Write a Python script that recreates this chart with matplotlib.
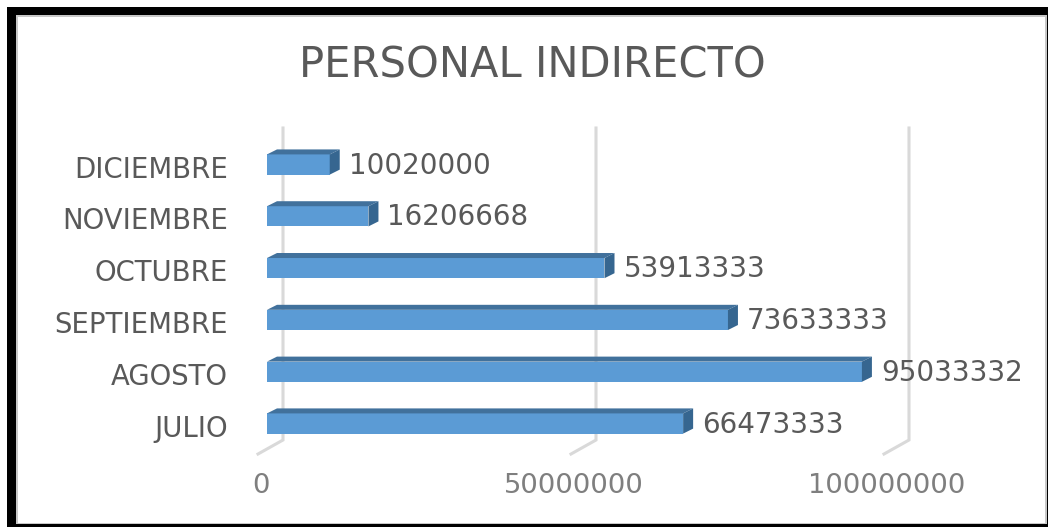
import matplotlib
matplotlib.use("Agg")
import matplotlib.pyplot as plt
from matplotlib.patches import Polygon, Rectangle

meses = ["JULIO", "AGOSTO", "SEPTIEMBRE", "OCTUBRE", "NOVIEMBRE", "DICIEMBRE"]
valores = [66473333, 95033332, 73633333, 53913333, 16206668, 10020000]
ticks = [0, 50000000, 100000000]
titulo = "PERSONAL INDIRECTO"

W, H = 1048, 527
plt.rcParams["font.family"] = ["DejaVu Sans"]

fig = plt.figure(figsize=(W / 100, H / 100), dpi=100)

# marco negro de la captura
fondo = fig.add_axes([0, 0, 1, 1])
fondo.set_xlim(0, W)
fondo.set_ylim(H, 0)
fondo.axis("off")
fondo.add_patch(Rectangle((7, 7), W + 20, H + 20, fc="black", ec="none"))
fondo.add_patch(Rectangle((16, 15), 1032 - 1, 509, fc="#c8c8c8", ec="none"))
fondo.add_patch(Rectangle((18, 17), 1027, 506, fc="white", ec="none"))

# ejes alineados con el frente de las barras
ax = fig.add_axes([267 / W, 1 - 455 / H, 626 / W, (455 - 128) / H])
ax.set_xlim(0, 100000000)
ax.set_ylim(-0.608, 5.705)
ax.axis("off")

px_x = 100000000 / 626
px_y = 6.313 / 327
dx, dy = 10 * px_x, 5 * px_y
alto = 0.39

# rejilla detras de las barras, con su pie en perspectiva
for t in ticks:
    ax.plot([t + 16 * px_x, t + 16 * px_x, t - 9 * px_x],
            [5.705, (423.5 - 440) * px_y, (423.5 - 454) * px_y],
            color="#d9d9d9", lw=2.2, solid_joinstyle="miter", zorder=1, clip_on=False)

for i, v in enumerate(valores):
    y0, y1 = i - alto / 2, i + alto / 2
    ax.barh(i, v, height=alto, color="#5b9bd5", zorder=3)
    ax.add_patch(Polygon([(0, y1), (v, y1), (v + dx, y1 + dy), (dx, y1 + dy)],
                         fc="#41719c", ec="none", zorder=3))
    ax.add_patch(Polygon([(v, y0), (v + dx, y0 + dy), (v + dx, y1 + dy), (v, y1)],
                         fc="#366690", ec="none", zorder=3))
    ax.annotate(str(v), xy=(v, i), xytext=(19, -1), textcoords="offset pixels",
                ha="left", va="center", fontsize=20, color="#595959", zorder=4)
    ax.annotate(meses[i], xy=(0, i), xytext=(-39, -5), textcoords="offset pixels",
                ha="right", va="center", fontsize=19.8, color="#595959", zorder=4)

for t in ticks:
    ax.annotate(str(t), xy=(t, 0), xytext=(-6, -62), textcoords="offset pixels",
                ha="center", va="center", fontsize=19.7, color="#7f7f7f", zorder=4)

fig.text(532 / W, 1 - 65 / H, titulo, ha="center", va="center",
         fontsize=30, color="#595959")

fig.savefig("out.png", dpi=100)
